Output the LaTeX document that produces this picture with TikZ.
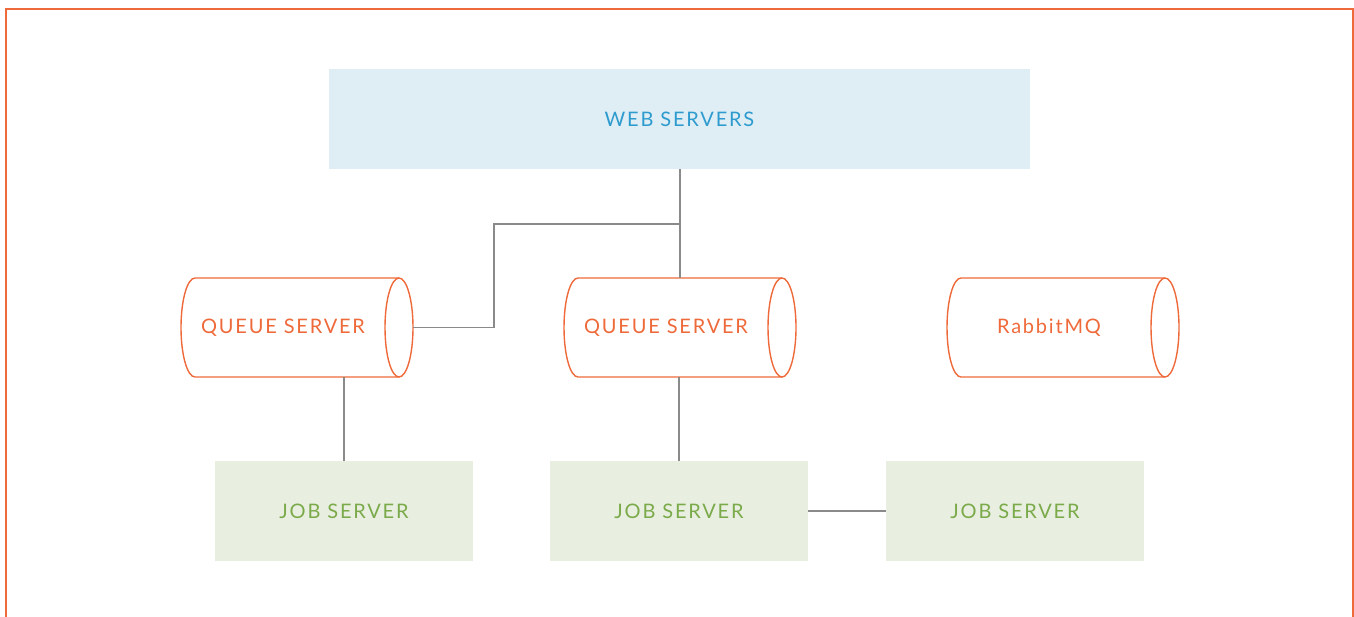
\documentclass[tikz,border=0pt]{standalone}
\usepackage{fontspec}
\setmainfont{Lato}[LetterSpace=9]
\definecolor{frameor}{HTML}{EE6A3A}
\definecolor{webfill}{HTML}{DFEEF5}
\definecolor{webtext}{HTML}{2E9BCF}
\definecolor{jobfill}{HTML}{E8EFE0}
\definecolor{jobtext}{HTML}{7BAA4A}
\definecolor{linegray}{HTML}{8A8A8A}
\begin{document}
\begin{tikzpicture}[x=0.5pt,y=-0.5pt,
  webbox/.style={fill=webfill,text=webtext,minimum width=350.5pt,minimum height=50pt,inner sep=0pt,font=\fontsize{10}{12}\selectfont},
  jobbox/.style={fill=jobfill,text=jobtext,minimum width=129pt,minimum height=50pt,inner sep=0pt,font=\fontsize{10}{12}\selectfont},
  cylbody/.style={minimum width=116pt,minimum height=49.5pt,inner sep=0pt},
  cyltext/.style={text=frameor,font=\fontsize{10}{12}\selectfont},
  cylline/.style={draw=frameor,line width=0.7pt},
  conn/.style={draw=linegray,line width=0.7pt}]
\useasboundingbox (0,0) rectangle (1354,616);
\draw[frameor,line width=0.9pt] (6,640) -- (6,9) -- (1353,9) -- (1353,640);

\node[webbox] (web) at (679.5,119) {WEB SERVERS};

\newcommand{\mycyl}[4]{%
  % #1 name, #2 left x, #3 label, #4 text center x
  \node[cylbody] (#1) at (#2+116,327.5) {};
  \draw[cylline] (#2+14,278) -- (#2+218,278)
     (#2+14,377) -- (#2+218,377)
     (#2+14,278) arc[start angle=90,end angle=270,x radius=7pt,y radius=24.75pt];
  \draw[cylline] (#2+218,327.5) ellipse[x radius=7pt,y radius=24.75pt];
  \node[cyltext] (#1t) at (#4,327.5) {#3};
}
\mycyl{q1}{181}{QUEUE SERVER}{283}
\mycyl{q2}{564}{QUEUE SERVER}{666}
\mycyl{rb}{947}{RabbitMQ}{1049}

\node[jobbox] (j1) at (344,511) {JOB SERVER};
\node[jobbox] (j2) at (679,511) {JOB SERVER};
\node[jobbox] (j3) at (1015,511) {JOB SERVER};

\coordinate (br) at (680,224);
\draw[conn] (web.south -| br) -- (q2.north -| br);
\draw[conn] (br) -- (494,224) |- (q1.east);
\draw[conn] (q1.south -| j1) -- (j1.north);
\draw[conn] (q2.south -| j2) -- (j2.north);
\draw[conn] (j2.east) -- (j3.west);
\end{tikzpicture}
\end{document}
